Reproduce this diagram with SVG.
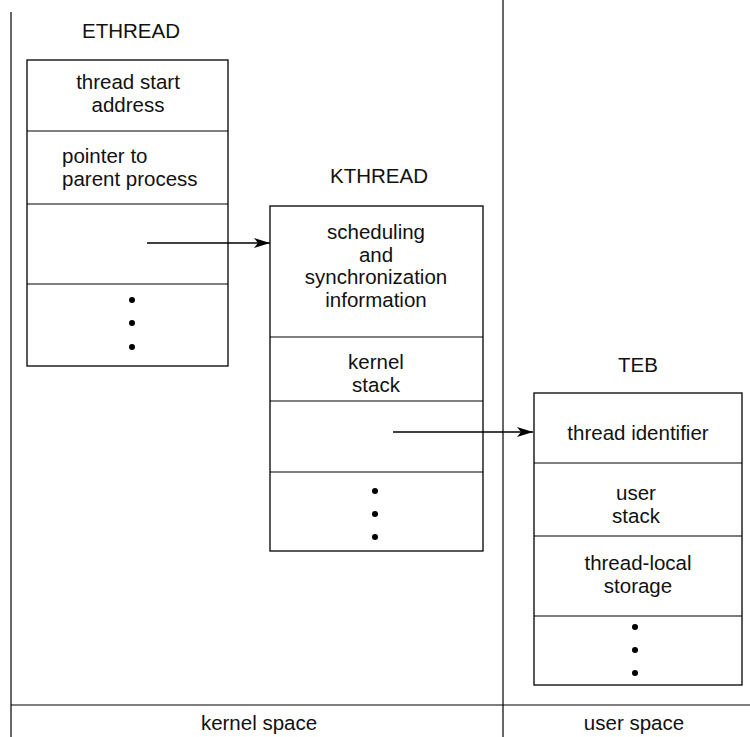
<svg xmlns="http://www.w3.org/2000/svg" width="750" height="737" viewBox="0 0 750 737">
<style>
.box{fill:#fff;stroke:#000;stroke-width:1.3}
.sep{stroke:#000;stroke-width:1.2}
.t{font-family:"Liberation Sans",Arial,sans-serif;font-size:20.5px;fill:#111;text-anchor:middle}
.l{text-anchor:start}
.dot{fill:#000}
.conn{stroke:#000;stroke-width:1.5;fill:none;marker-end:url(#ah)}
</style>
<defs>
<marker id="ah" viewBox="0 0 16 10" refX="16" refY="5" markerWidth="16" markerHeight="10" markerUnits="userSpaceOnUse" orient="auto">
<path d="M0,0 L16,5 L0,10 L4,5 Z" fill="#000"/>
</marker>
</defs>
<g id="frame">
<line class="sep" x1="11" y1="12" x2="11" y2="737"/>
<line class="sep" x1="503" y1="0" x2="503" y2="737"/>
<line class="sep" x1="11" y1="705" x2="750" y2="705"/>
<text class="t" x="259" y="730">kernel space</text>
<text class="t" x="634" y="730">user space</text>
</g>
<g id="ethread">
<text class="t" x="131" y="38">ETHREAD</text>
<rect class="box" x="27" y="60" width="201" height="306"/>
<line class="sep" x1="27" y1="131" x2="228" y2="131"/>
<line class="sep" x1="27" y1="204" x2="228" y2="204"/>
<line class="sep" x1="27" y1="284" x2="228" y2="284"/>
<text class="t" x="128" y="89">thread start</text>
<text class="t" x="128" y="112">address</text>
<text class="t l" x="62" y="163">pointer to</text>
<text class="t l" x="62" y="186">parent process</text>
<circle class="dot" cx="132" cy="300" r="3"/>
<circle class="dot" cx="132" cy="323" r="3"/>
<circle class="dot" cx="132" cy="347" r="3"/>
</g>
<g id="kthread">
<text class="t" x="379" y="183">KTHREAD</text>
<rect class="box" x="270" y="206" width="213" height="345"/>
<line class="sep" x1="270" y1="337" x2="483" y2="337"/>
<line class="sep" x1="270" y1="401" x2="483" y2="401"/>
<line class="sep" x1="270" y1="472" x2="483" y2="472"/>
<text class="t" x="376" y="239">scheduling</text>
<text class="t" x="376" y="262">and</text>
<text class="t" x="376" y="284">synchronization</text>
<text class="t" x="376" y="307">information</text>
<text class="t" x="376" y="369">kernel</text>
<text class="t" x="376" y="392">stack</text>
<circle class="dot" cx="375" cy="491" r="3"/>
<circle class="dot" cx="375" cy="514" r="3"/>
<circle class="dot" cx="375" cy="537" r="3"/>
</g>
<g id="teb">
<text class="t" x="638" y="372">TEB</text>
<rect class="box" x="534" y="393" width="208" height="292"/>
<line class="sep" x1="534" y1="463" x2="742" y2="463"/>
<line class="sep" x1="534" y1="536" x2="742" y2="536"/>
<line class="sep" x1="534" y1="616" x2="742" y2="616"/>
<text class="t" x="638" y="440">thread identifier</text>
<text class="t" x="636" y="500">user</text>
<text class="t" x="636" y="523">stack</text>
<text class="t" x="638" y="570">thread-local</text>
<text class="t" x="638" y="593">storage</text>
<circle class="dot" cx="635" cy="627" r="3"/>
<circle class="dot" cx="635" cy="650" r="3"/>
<circle class="dot" cx="635" cy="673" r="3"/>
</g>
<g id="connectors">
<line class="conn" x1="147" y1="243" x2="270" y2="243"/>
<line class="conn" x1="393" y1="432" x2="533" y2="432"/>
</g>
</svg>
